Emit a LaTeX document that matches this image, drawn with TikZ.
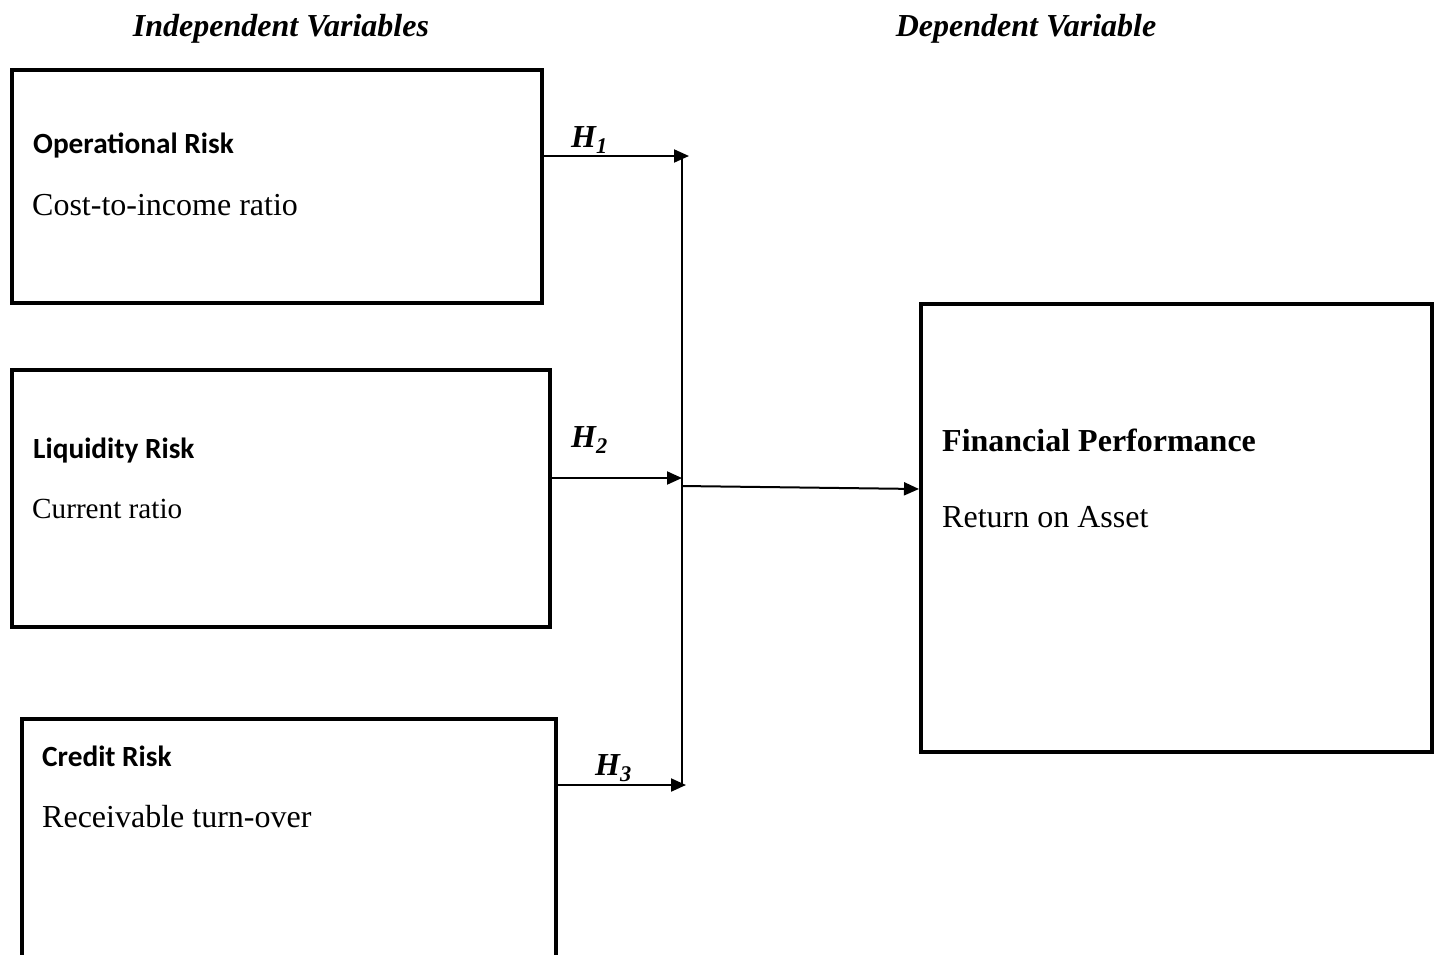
\documentclass[tikz,border=0pt]{standalone}
\usepackage{fontspec}
\setmainfont{Liberation Serif}
\newfontfamily\calibri{Carlito}
\usetikzlibrary{arrows.meta}
\begin{document}
\begin{tikzpicture}[x=1pt,y=-1pt,
  box/.style={draw, line width=3.5pt, rectangle, anchor=north west, inner sep=0pt},
  head/.style={anchor=base, inner sep=0pt, font=\fontsize{32}{36}\selectfont\bfseries\itshape},
  title/.style={anchor=base west, inner sep=0pt, font=\fontsize{29.3}{33}\selectfont\calibri\bfseries},
  body/.style={anchor=base west, inner sep=0pt, font=\fontsize{32}{36}\selectfont},
  ftitle/.style={anchor=base west, inner sep=0pt, font=\fontsize{32}{36}\selectfont\bfseries},
  hyp/.style={anchor=base west, inner sep=0pt, font=\fontsize{32}{36}\selectfont\bfseries\itshape},
  conn/.style={line width=2pt},
  arr/.style={line width=2pt, -{Triangle[length=15pt,width=13pt]}}]
\clip (0,0) rectangle (1434,954);
\fill[white] (0,0) rectangle (1434,954);
% headers
\node[head] (hind) at (281,36) {Independent Variables};
\node[head] (hdep) at (1026,36) {Dependent Variable};
% boxes
\node[box, minimum width=530pt, minimum height=233pt] (op) at (10,68) {};
\node[box, minimum width=538pt, minimum height=257pt] (lq) at (10,368) {};
\node[box, minimum width=534pt, minimum height=260pt] (cr) at (20,717) {};
\node[box, minimum width=511pt, minimum height=448pt] (fp) at (919,302) {};
% texts
\node[title] (opt) at (33,153) {Operational Risk};
\node[body] (opb) at (32,215) {Cost-to-income ratio};
\node[title] (lqt) at (33,458) {Liquidity Risk};
\node[body, font=\fontsize{29.2}{33}\selectfont] (lqb) at (32,518) {Current ratio};
\node[title] (crt) at (42,766) {Credit Risk};
\node[body] (crb) at (42,827) {Receivable turn-over};
\node[ftitle] (fpt) at (942,451) {Financial Performance};
\node[body] (fpb) at (942,527) {Return on Asset};
% hypothesis labels
\node[hyp] (h1) at (571,147) {H\textsubscript{1}};
\node[hyp] (h2) at (571,447) {H\textsubscript{2}};
\node[hyp] (h3) at (595,775) {H\textsubscript{3}};
% junction coordinates
\coordinate (j1) at (689,156);
\coordinate (j2) at (682,478);
\coordinate (j3) at (686,785);
\coordinate (vt) at (682,156);
\coordinate (vb) at (682,785);
\coordinate (vm) at (682,486);
% connectors
\draw[conn] (vt) -- (vb);
\draw[arr] (op.east |- j1) -- (j1);
\draw[arr] (lq.east |- j2) -- (j2);
\draw[arr] (cr.east |- j3) -- (j3);
\draw[arr] (vm) -- (fp.west |- 0,489);
\end{tikzpicture}
\end{document}
